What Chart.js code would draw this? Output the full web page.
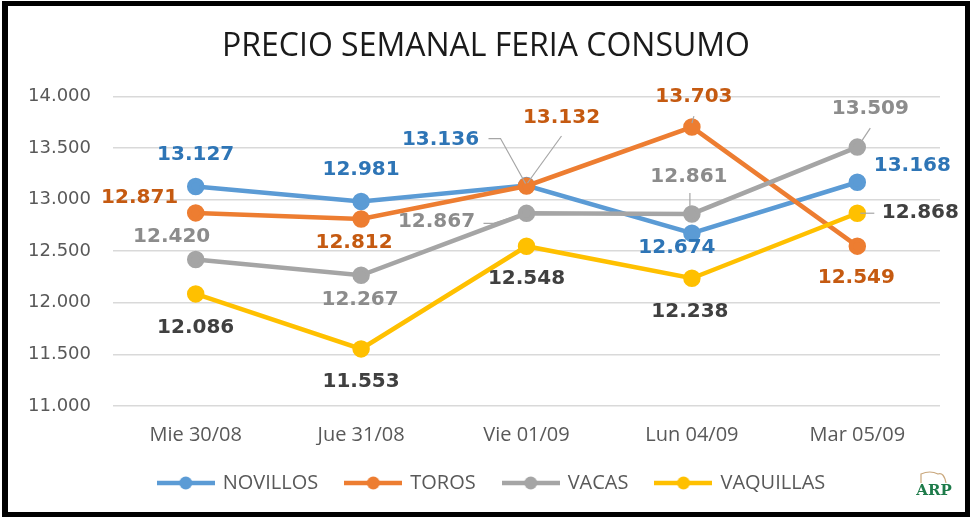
<!DOCTYPE html>
<html>
<head>
<meta charset="utf-8">
<script src="https://cdn.jsdelivr.net/npm/chart.js@4.4.0/dist/chart.umd.min.js"></script>
<style>
  html, body { margin: 0; padding: 0; background: #ffffff; }
  #wrap { position: relative; width: 971px; height: 517px; }
  #frame { position: absolute; left: 2px; top: 1px; width: 968px; height: 516px;
           box-sizing: border-box; border: 5px solid #000; border-left-width: 6px; pointer-events: none; }
</style>
</head>
<body>
<div id="wrap">
  <canvas id="precio" width="971" height="517"></canvas>
  <div id="frame"></div>
</div>
<script>
// the days of the week
const dias = ['Mie 30/08', 'Jue 31/08', 'Vie 01/09', 'Lun 04/09', 'Mar 05/09']

// prices per category
const novillos = [13127, 12981, 13136, 12674, 13168]
const toros = [12871, 12812, 13132, 13703, 12549]
const vacas = [12420, 12267, 12867, 12861, 13509]
const vaquillas = [12086, 11553, 12548, 12238, 12868]

// y axis ticks
const yMin = 11000
const yMax = 14000
const yStep = 500

// where each value label sits from its point (dx, dy)
const labelPos = [
    [[0, -32], [0, -32], [-86, -46], [-15, 15], [55, -16]],
    [[-56, -15], [-7, 24], [35, -68], [2, -30], [-1, 32]],
    [[-24, -23], [-1, 25], [-90, 8], [-3, -37], [13, -38]],
    [[0, 34], [0, 33], [0, 33], [-2, 34], [63, 0]]
]

// leader lines, relative to the point
const leaders = [
    [null, null, [[-38, -47], [-26, -47], [-1, -2]], null, null],
    [null, null, [[35, -50], [1, -3]], [[2, -11], [0, -4]], null],
    [null, null, [[-43, 10], [-33, 10], [-5, 1]], [[-2, -21], [-2, -6]], [[13, -19], [3, -4]]],
    [null, null, null, null, [[3, 0], [17, 0]]]
]

const lineColors = ['#5B9BD5', '#ED7D31', '#A5A5A5', '#FFC000']
const labelColors = ['#2E75B6', '#C55A11', '#8C8C8C', '#404040']

function fmt(v) {
    return (v / 1000).toFixed(3)
}

// legend symbol: a short line with a dot on it
function legendSymbol(color) {
    const c = document.createElement('canvas')
    c.width = 58
    c.height = 14
    const ctx = c.getContext('2d')
    ctx.strokeStyle = color
    ctx.lineWidth = 4.5
    ctx.beginPath()
    ctx.moveTo(0, 7)
    ctx.lineTo(58, 7)
    ctx.stroke()
    ctx.fillStyle = color
    ctx.beginPath()
    ctx.arc(29, 7, 6.5, 0, Math.PI * 2)
    ctx.fill()
    return c
}

function makeSet(name, values, i) {
    return {
        label: name,
        data: values,
        borderColor: lineColors[i],
        backgroundColor: lineColors[i],
        borderWidth: 4.5,
        pointRadius: 6.5,
        pointHoverRadius: 6.5,
        tension: 0,
        order: 4 - i
    }
}

const valueLabels = {
    id: 'valueLabels',
    afterDatasetsDraw(chart) {
        const ctx = chart.ctx
        ctx.save()
        chart.data.datasets.forEach((ds, i) => {
            const meta = chart.getDatasetMeta(i)
            meta.data.forEach((pt, j) => {
                const lead = leaders[i][j]
                if (lead) {
                    ctx.strokeStyle = '#A6A6A6'
                    ctx.lineWidth = 1.2
                    ctx.beginPath()
                    lead.forEach((p, k) => {
                        if (k == 0) ctx.moveTo(pt.x + p[0], pt.y + p[1])
                        else ctx.lineTo(pt.x + p[0], pt.y + p[1])
                    })
                    ctx.stroke()
                }
                const off = labelPos[i][j]
                ctx.font = 'bold 20px "DejaVu Sans"'
                ctx.fillStyle = labelColors[i]
                ctx.textAlign = 'center'
                ctx.textBaseline = 'middle'
                ctx.fillText(fmt(ds.data[j]), pt.x + off[0], pt.y + off[1])
            })
        })
        ctx.restore()
    }
}

// title and legend sit a bit right of the canvas centre
const nudge = {
    id: 'nudge',
    afterLayout(chart) {
        chart.legend.left += 22
        chart.legend.right += 22
        chart.titleBlock.left += 16
        chart.titleBlock.right += 16
    }
}

// small logo in the corner
const logo = {
    id: 'logo',
    afterDraw(chart) {
        const ctx = chart.ctx
        ctx.save()
        ctx.strokeStyle = '#C9A77C'
        ctx.lineWidth = 1.2
        ctx.beginPath()
        ctx.moveTo(921, 483)
        ctx.lineTo(921, 474)
        ctx.quadraticCurveTo(930, 470, 938, 474)
        ctx.quadraticCurveTo(944, 472, 946, 483)
        ctx.stroke()
        ctx.fillStyle = '#1E7B4A'
        ctx.font = 'bold 15px "DejaVu Serif"'
        ctx.textAlign = 'center'
        ctx.textBaseline = 'middle'
        ctx.fillText('ARP', 934, 491)
        ctx.restore()
    }
}

const data_p = {
    labels: dias,
    datasets: [
        makeSet('NOVILLOS', novillos, 0),
        makeSet('TOROS', toros, 1),
        makeSet('VACAS', vacas, 2),
        makeSet('VAQUILLAS', vaquillas, 3)
    ]
}

const config_p = {
    type: 'line',
    data: data_p,
    options: {
        responsive: false,
        animation: false,
        layout: { padding: { left: 0, right: 31, top: 0, bottom: 14 } },
        plugins: {
            title: {
                display: true,
                text: 'PRECIO SEMANAL FERIA CONSUMO',
                color: '#1A1A1A',
                font: { family: 'Open Sans', size: 32, weight: 'normal' },
                padding: { top: 28, bottom: 30 }
            },
            legend: {
                position: 'bottom',
                labels: {
                    color: '#595959',
                    font: { family: 'Open Sans', size: 20 },
                    usePointStyle: true,
                    pointStyleWidth: 54,
                    padding: 28,
                    generateLabels(chart) {
                        return chart.data.datasets.map((ds, i) => ({
                            text: ds.label,
                            pointStyle: legendSymbol(lineColors[i]),
                            fillStyle: lineColors[i],
                            strokeStyle: lineColors[i],
                            lineWidth: 0,
                            fontColor: '#595959',
                            datasetIndex: i,
                            hidden: false
                        }))
                    }
                }
            },
            tooltip: { enabled: false }
        },
        scales: {
            x: {
                offset: true,
                afterFit(scale) { scale.height -= 19 },
                grid: { display: false, drawTicks: false },
                border: { display: false },
                ticks: {
                    color: '#595959',
                    padding: 17,
                    font: { family: 'Open Sans', size: 20 }
                }
            },
            y: {
                min: yMin,
                max: yMax,
                afterFit(scale) { scale.width = 113 },
                grid: { color: '#D9D9D9', lineWidth: 1.5, drawTicks: false },
                border: { display: false },
                ticks: {
                    stepSize: yStep,
                    color: '#595959',
                    padding: 22,
                    font: { family: 'DejaVu Sans', size: 18 },
                    callback: (v) => fmt(v)
                }
            }
        }
    },
    plugins: [valueLabels, nudge, logo]
}

const precioChart = new Chart(
    document.getElementById('precio'),
    config_p
)
</script>
</body>
</html>
